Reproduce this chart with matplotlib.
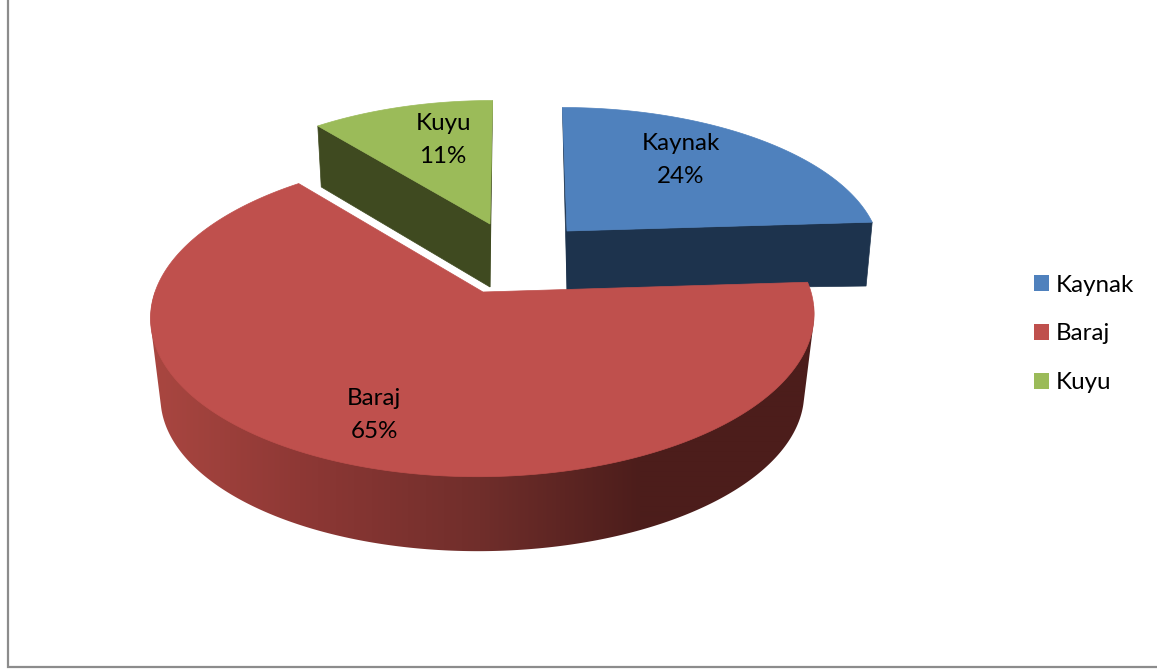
import numpy as np
import matplotlib
matplotlib.use("Agg")
import matplotlib.pyplot as plt
from matplotlib.patches import Polygon, Patch

categories = ["Kaynak", "Baraj", "Kuyu"]
values = [24, 65, 11]
top_colors = ["#4f81bd", "#bf504d", "#9bbb59"]
side_colors = ["#1d334d", None, "#3f4a20"]

# layout of each slice (pixels): apex x, apex y, rx, ry, x-convergence, depth, x shrink, y shrink
slice_layout = {
    "Kaynak": (567, 231, 309, 142, 35, 59, 0.98, 0.45),
    "Baraj": (483, 292, 328, 157, -30, 80, 0.97, 0.97),
    "Kuyu": (490, 224, 305, 142, -20, 63, 0.98, 1.02),
}
label_pos = {"Kaynak": (681, 160), "Baraj": (374, 415), "Kuyu": (443, 140)}
PERSP = 0.15
FONT = "Lato"
FS = 17.4

fig = plt.figure(figsize=(11.57, 6.69), dpi=100, facecolor="white")
ax = fig.add_axes([0, 0, 1, 1])
ax.axis("off")

# outer frame
ax.plot([8, 8, 1157], [0, 667, 667], color="#8c8c8c", lw=1.6, solid_joinstyle="miter", zorder=1)


def top_pt(name, th):
    ax0, ay0, R, S, ox, D, sx, sy = slice_layout[name]
    X, Y = np.sin(th), np.cos(th)
    w = 1 + PERSP * Y
    return ax0 + (ox + X * R) / w - ox, ay0 - Y * S / w


def bot_pt(name, th):
    ax0, ay0, R, S, ox, D, sx, sy = slice_layout[name]
    x, y = top_pt(name, th)
    return ax0 + sx * (x - ax0), ay0 + sy * (y - ay0) + D


def wall_colors(x):
    stops_x = [160, 300, 480, 640]
    stops = np.array([[0xa8, 0x46, 0x40], [0x8e, 0x38, 0x35], [0x70, 0x2e, 0x2b], [0x4c, 0x1d, 0x1b]]) / 255
    return np.stack([np.interp(x, stops_x, stops[:, i]) for i in range(3)], axis=-1)


def hull(points):
    pts = sorted(set(points))

    def half(seq):
        out = []
        for p in seq:
            while len(out) > 1 and ((out[-1][0] - out[-2][0]) * (p[1] - out[-2][1])
                                    - (out[-1][1] - out[-2][1]) * (p[0] - out[-2][0])) <= 0:
                out.pop()
            out.append(p)
        return out[:-1]

    return half(pts) + half(pts[::-1])


edges = np.cumsum([0] + values) / sum(values) * 2 * np.pi
spans = {c: (edges[i], edges[i + 1]) for i, c in enumerate(categories)}
idx = {c: i for i, c in enumerate(categories)}


def draw_exploded(name, front_edge, back_edge):
    i = idx[name]
    ap = slice_layout[name][:2]
    apb = (ap[0], ap[1] + slice_layout[name][5])
    col = side_colors[i]
    ax.add_patch(Polygon([ap, top_pt(name, back_edge), apb], fc=col, ec=col, lw=0.5, zorder=2))
    ax.add_patch(Polygon([ap, top_pt(name, front_edge), bot_pt(name, front_edge), apb],
                         fc=col, ec=col, lw=0.5, zorder=2))
    th = np.linspace(*spans[name], 120)
    x, y = top_pt(name, th)
    ax.add_patch(Polygon([ap] + list(zip(x, y)), fc=top_colors[i], ec=top_colors[i], lw=0.5, zorder=3))


draw_exploded("Kuyu", spans["Kuyu"][0], spans["Kuyu"][1])
draw_exploded("Kaynak", spans["Kaynak"][1], spans["Kaynak"][0])

# Baraj: shaded outer wall, clipped to its outline, then the top face
a, b = spans["Baraj"]
th = np.linspace(a, b, 500)
x, y = top_pt("Baraj", th)
front = np.linspace(np.radians(95), np.radians(270), 400)
xf, yf = top_pt("Baraj", front)
xb, yb = bot_pt("Baraj", front)
outline = hull(list(zip(xf.tolist(), yf.tolist())) + list(zip(xb.tolist(), yb.tolist())))
wall = Polygon(outline, fc="none", ec="none", transform=ax.transData, zorder=4)
ax.add_patch(wall)
gx = np.arange(140, 830)
img = ax.imshow(wall_colors(gx)[None, :, :], extent=(140, 830, 600, 280), aspect="auto",
                interpolation="bilinear", zorder=4)
img.set_clip_path(wall)
ax.add_patch(Polygon([slice_layout["Baraj"][:2]] + list(zip(x, y)),
                     fc=top_colors[1], ec=top_colors[1], lw=0.5, zorder=5))

ax.set_xlim(0, 1157)
ax.set_ylim(669, 0)

# data labels
for c, v in zip(categories, values):
    lx, ly = label_pos[c]
    ax.text(lx, ly, f"{c}\n{v}%", ha="center", va="center", family=FONT, fontsize=FS,
            linespacing=1.71, color="black", zorder=6)

handles = [Patch(fc=col, ec=col, lw=0) for col in top_colors]
ax.legend(handles, categories, loc="center left", bbox_to_anchor=(1034 / 1157, 1 - 334 / 669),
          frameon=False, prop={"family": FONT, "size": FS}, handlelength=0.62, handleheight=0.62,
          handletextpad=0.28, labelspacing=1.15, borderpad=0, borderaxespad=0)

fig.savefig("out.png", dpi=100, facecolor="white")
